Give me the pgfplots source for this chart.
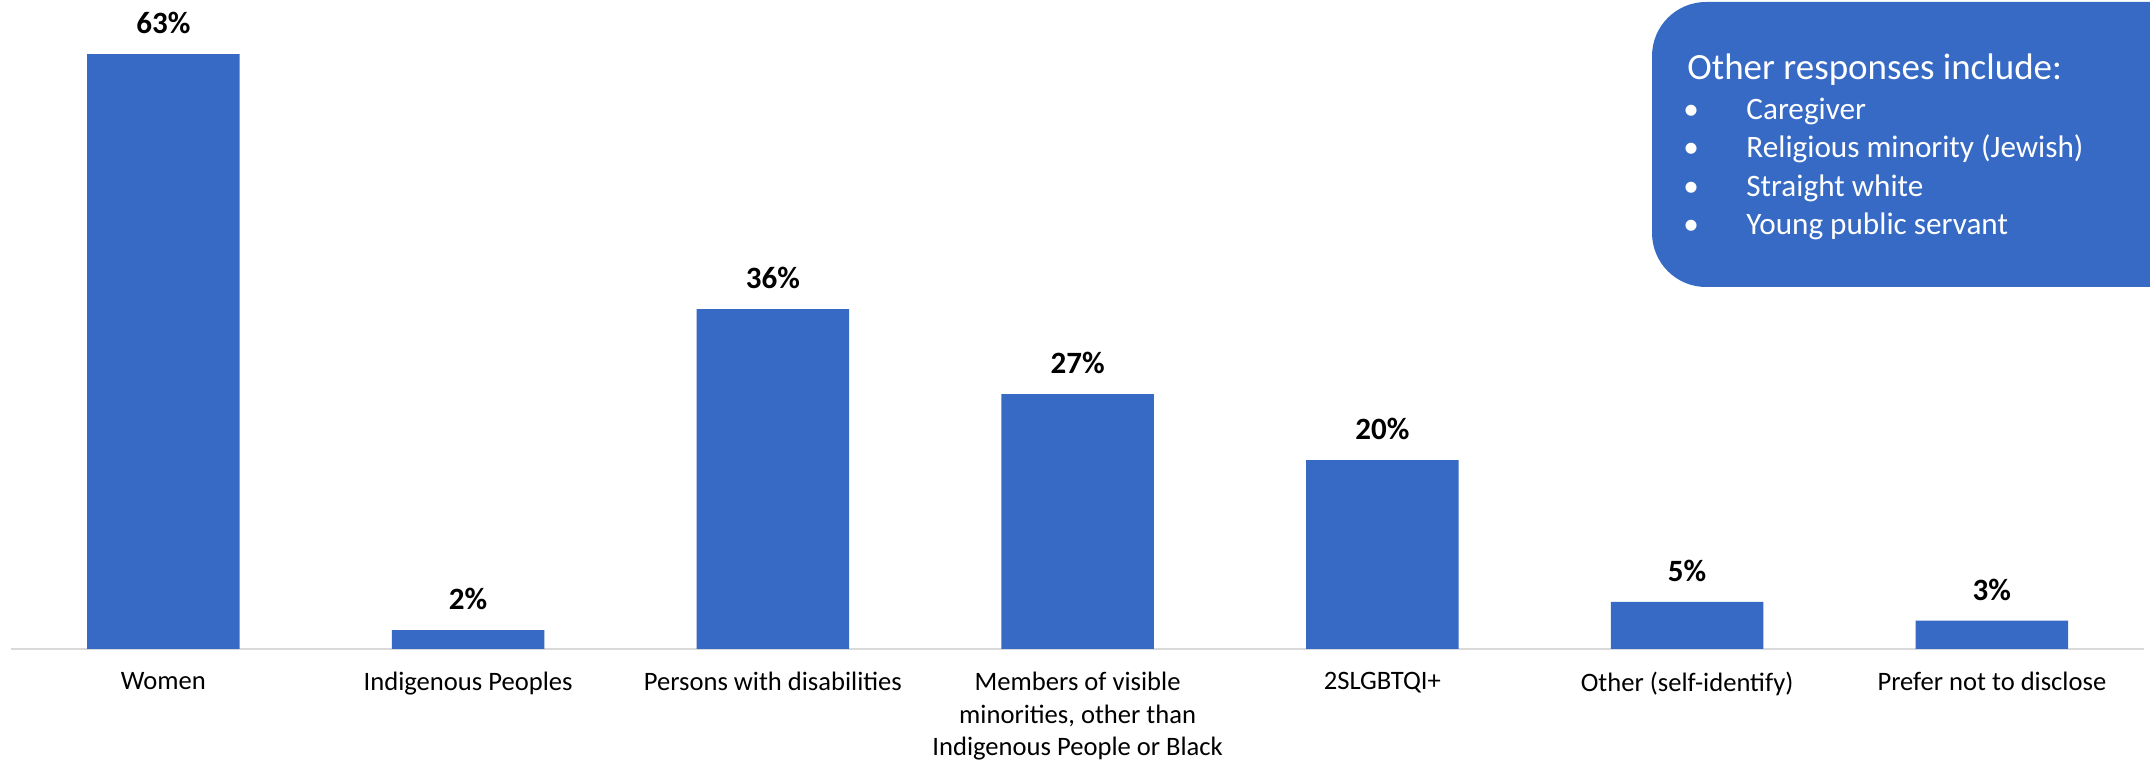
\documentclass[border=0pt]{standalone}
\usepackage{fontspec}
\setmainfont{Carlito}
\usepackage{pgfplots}
\pgfplotsset{compat=1.18}
\definecolor{barblue}{HTML}{366AC4}
\definecolor{axisgray}{HTML}{D9D9D9}
\begin{document}
\begin{tikzpicture}
\useasboundingbox (0,0) rectangle (1075pt,382.5pt);
\begin{axis}[
  at={(5.5pt,58pt)}, anchor=south west,
  scale only axis, width=1066.7pt, height=321.1pt,
  xmin=-0.5, xmax=6.5, ymin=0, ymax=68,
  axis y line=none, axis x line*=bottom,
  x axis line style={draw=axisgray, line width=1pt},
  xtick={0,...,6},
  xticklabels={Women, Indigenous Peoples, Persons with disabilities, {Members of visible\\minorities, other than\\Indigenous People or Black}, 2SLGBTQI+, Other (self-identify), Prefer not to disclose},
  major tick length=0pt,
  xticklabel style={font=\fontsize{13.3}{16.2}\selectfont, align=center, anchor=north, inner sep=0pt, yshift=-11.5pt},
  ybar, bar width=0.5,
  /pgf/number format/assume math mode=true,
  nodes near coords={\pgfmathprintnumber{\pgfplotspointmeta}\%},
  every node near coord/.append style={font=\fontsize{15.5}{18}\bfseries\selectfont, inner sep=0pt, yshift=10pt, text=black},
  clip=false,
]
\addplot[fill=barblue, draw=none] coordinates {(0,63) (1,2) (2,36) (3,27) (4,20) (5,5) (6,3)};
\end{axis}
\fill[barblue, rounded corners=27pt] (826pt,239pt) rectangle (1110pt,381.5pt);
\node[anchor=base west, inner sep=0pt, text=white, font=\fontsize{18.5}{22}\selectfont] at (843.5pt,342.5pt) {Other responses include:};
\foreach \y/\t in {322.5/Caregiver, 303.5/Religious minority (Jewish), 284/Straight white, 265/Young public servant}{
  \node[anchor=base, inner sep=0pt, text=white, font=\fontsize{15.6}{19}\selectfont] at (845.5pt,\y pt) {•};
  \node[anchor=base west, inner sep=0pt, text=white, font=\fontsize{15.6}{19}\selectfont] at (873pt,\y pt) {\t};
}
\end{tikzpicture}
\end{document}
